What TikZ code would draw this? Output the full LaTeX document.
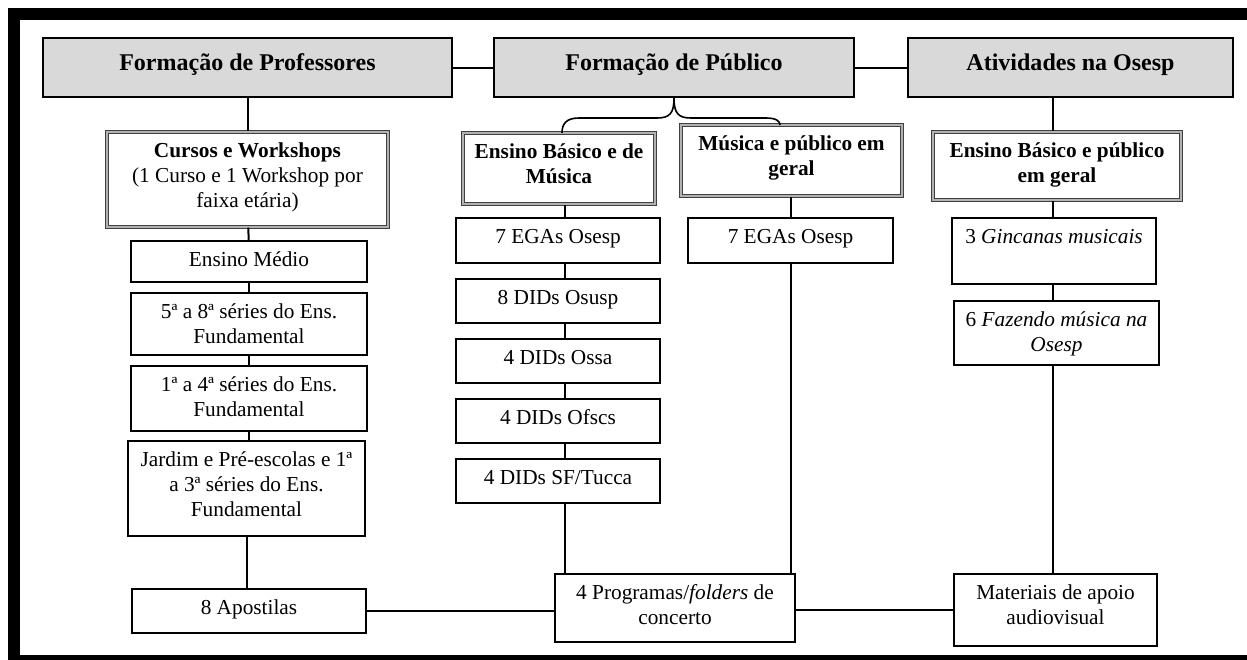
\documentclass[tikz,border=0pt]{standalone}
\usepackage{fontspec}
\setmainfont{Liberation Serif}
\newcommand{\cadre}[4][12.5pt]{\parbox[c][#3][t]{#2}{\centering\rule{0pt}{#1}#4}}
\tikzset{
    titulo/.style={draw, line width=1pt, fill=black!15, inner sep=0pt, font=\fontsize{12}{14}\selectfont\bfseries},
    grupo/.style={draw=black!75, double=black!30, line width=0.6pt, double distance=0.8pt, inner sep=0pt, font=\fontsize{10.65}{12.5}\selectfont},
    caixa/.style={draw, line width=1pt, inner sep=0pt, font=\fontsize{10.65}{12.5}\selectfont},
    liga/.style={line width=1pt}
}
\begin{document}
\begin{tikzpicture}[x=0.5pt, y=-0.5pt]
    \useasboundingbox (0,0) rectangle (1247,659);
    % Moldura
    \draw[line width=6pt] (13.5,14) rectangle (1290,661);
    % Eixos principais
    \node[titulo] (prof) at (247.5,67.5) {\cadre[16pt]{204.5pt}{29.5pt}{Formação de Professores}};
    \node[titulo] (pub) at (674,67.5) {\cadre[16pt]{180pt}{29.5pt}{Formação de Público}};
    \node[titulo] (ativ) at (1070.5,67.5) {\cadre[16pt]{162.5pt}{29.5pt}{Atividades na Osesp}};
    % Coluna 1: professores
    \node[grupo] (cursos) at (247.5,179.5) {\cadre{140.5pt}{47.5pt}{\textbf{Cursos e Workshops}\\(1 Curso e 1 Workshop por\\faixa etária)}};
    \node[caixa] (medio) at (249,261.5) {\cadre{118pt}{20.5pt}{Ensino Médio}};
    \node[caixa] (cinco) at (249,324) {\cadre{118pt}{31pt}{5ª a 8ª séries do Ens.\\Fundamental}};
    \node[caixa] (um) at (249,398.5) {\cadre{118pt}{32.5pt}{1ª a 4ª séries do Ens.\\Fundamental}};
    \node[caixa] (jardim) at (246.5,488.5) {\cadre{118.5pt}{47.5pt}{Jardim e Pré-escolas e 1ª\\a 3ª séries do Ens.\\Fundamental}};
    \node[caixa] (apost) at (249,611) {\cadre{117pt}{22pt}{8 Apostilas}};
    % Coluna 2: publico
    \node[grupo] (ensmus) at (559,168.5) {\cadre{96pt}{35.5pt}{\textbf{Ensino Básico e de\\Música}}};
    \node[grupo] (musger) at (791.5,160.5) {\cadre{110.5pt}{35.5pt}{\textbf{Música e público em\\geral}}};
    \node[caixa] (ega) at (558,240.5) {\cadre{102pt}{22.5pt}{7 EGAs Osesp}};
    \node[caixa] (osusp) at (558,301) {\cadre{102pt}{22pt}{8 DIDs Osusp}};
    \node[caixa] (ossa) at (558,361) {\cadre{102pt}{22pt}{4 DIDs Ossa}};
    \node[caixa] (ofscs) at (558,421) {\cadre{102pt}{22pt}{4 DIDs Ofscs}};
    \node[caixa] (tucca) at (558,481) {\cadre{102pt}{22pt}{4 DIDs SF/Tucca}};
    \node[caixa] (egager) at (790.5,240.5) {\cadre{102.5pt}{22.5pt}{7 EGAs Osesp}};
    \node[caixa] (prog) at (675,608) {\cadre{120pt}{34pt}{4 Programas/\textit{folders} de\\concerto}};
    % Coluna 3: atividades
    \node[grupo] (ensger) at (1057,166) {\cadre{124pt}{34pt}{\textbf{Ensino Básico e público\\em geral}}};
    \node[caixa] (ginc) at (1054,251) {\cadre{102pt}{33pt}{3 \textit{Gincanas musicais}}};
    \node[caixa] (faz) at (1056.5,333) {\cadre{102.5pt}{32pt}{6 \textit{Fazendo música na}\\\textit{Osesp}}};
    \node[caixa] (mat) at (1055.5,610) {\cadre{101.5pt}{36pt}{Materiais de apoio\\audiovisual}};
    % Ligacoes
    \coordinate (lx) at (565,0);
    \coordinate (rx) at (1053,0);
    \coordinate (bl) at (562,133);
    \coordinate (br) at (780,125);
    \draw[liga] (prof) -- (pub);
    \draw[liga] (pub) -- (ativ);
    \draw[liga] (prof) -- (cursos);
    \draw[liga] (cursos) -- (medio);
    \draw[liga] (medio) -- (cinco);
    \draw[liga] (cinco) -- (um);
    \draw[liga] (um) -- (jardim.north -| um);
    \draw[liga] (jardim) -- (apost.north -| jardim);
    \draw[liga] (apost.east) -- (apost.east -| prog.west);
    \draw[liga] (mat.west -| prog.east) -- (mat.west);
    \draw[liga] (ensmus.south -| lx) -- (ega.north -| lx);
    \draw[liga] (ega.south -| lx) -- (osusp.north -| lx);
    \draw[liga] (osusp.south -| lx) -- (ossa.north -| lx);
    \draw[liga] (ossa.south -| lx) -- (ofscs.north -| lx);
    \draw[liga] (ofscs.south -| lx) -- (tucca.north -| lx);
    \draw[liga] (tucca.south -| lx) -- (prog.north -| lx);
    \draw[liga] (musger.south -| egager) -- (egager);
    \draw[liga] (egager.south) -- (egager.south |- prog.north);
    \draw[liga] (ativ.south -| rx) -- (ensger.north -| rx);
    \draw[liga] (ensger.south -| rx) -- (ginc.north -| rx);
    \draw[liga] (ginc.south -| rx) -- (faz.north -| rx);
    \draw[liga] (faz.south -| rx) -- (mat.north -| rx);
    % Chave
    \draw[line width=0.8pt] (pub.south) .. controls (674,113) and (670,118) .. (657,118) -- (579,118) .. controls (566,118) and (562,124) .. (bl);
    \draw[line width=0.8pt] (pub.south) .. controls (674,113) and (678,118) .. (691,118) -- (766,118) .. controls (776,118) and (780,121) .. (br);
\end{tikzpicture}
\end{document}
